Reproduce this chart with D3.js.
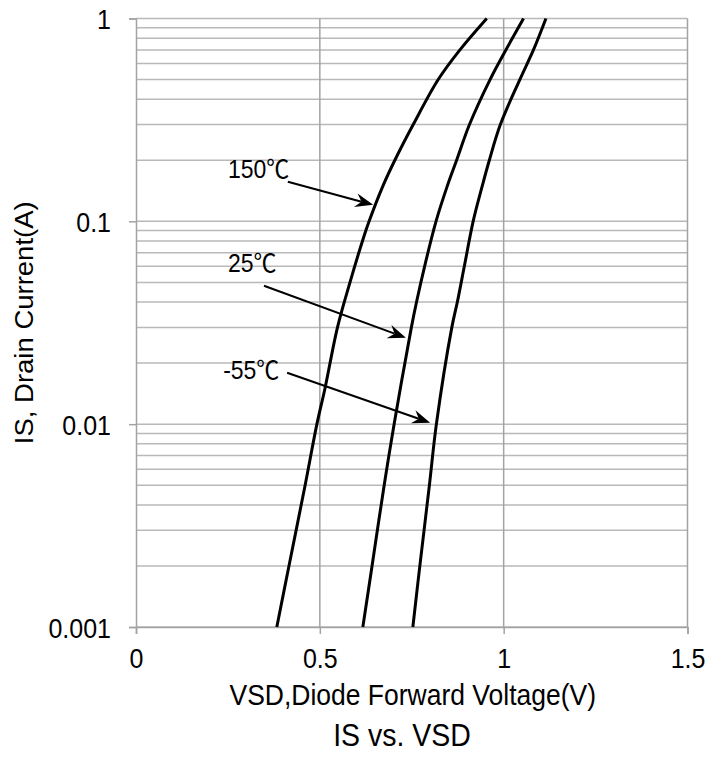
<!DOCTYPE html>
<html>
<head>
<meta charset="utf-8">
<script src="https://cdn.jsdelivr.net/npm/d3@7"></script>
<style>
  body { margin: 0; background: #fff; }
  text { font-family: "Liberation Sans", Arial, "Noto Sans CJK SC", sans-serif; fill: #000; }
</style>
</head>
<body>
<svg id="chart" width="725" height="760"></svg>
<script>
// Axis ticks
const xTicks = [0, 0.5, 1, 1.5];
const xTickLabels = ["0", "0.5", "1", "1.5"];
const yTicks = [0.001, 0.01, 0.1, 1];
const yTickLabels = ["0.001", "0.01", "0.1", "1"];

// Source-drain diode forward characteristic, IS (A) vs VSD (V)
const is150 = [0.001, 0.002, 0.005, 0.01, 0.015, 0.03, 0.05, 0.08, 0.1, 0.15, 0.2, 0.3, 0.5, 0.7, 1];
const vsd150 = [0.383, 0.416, 0.460, 0.492, 0.514, 0.548, 0.582, 0.616, 0.634, 0.672, 0.704, 0.754, 0.822, 0.881, 0.954];
const is25 = [0.001, 0.002, 0.005, 0.01, 0.03, 0.04, 0.06, 0.1, 0.15, 0.2, 0.3, 0.5, 0.7, 1];
const vsd25 = [0.617, 0.642, 0.675, 0.702, 0.749, 0.763, 0.785, 0.816, 0.847, 0.872, 0.907, 0.963, 1.006, 1.054];
const isM55 = [0.001, 0.002, 0.005, 0.01, 0.03, 0.04, 0.06, 0.1, 0.15, 0.2, 0.3, 0.5, 0.7, 1];
const vsdM55 = [0.753, 0.772, 0.798, 0.817, 0.859, 0.874, 0.893, 0.917, 0.942, 0.961, 0.991, 1.044, 1.081, 1.115];

// Temperature callouts: label anchor, arrow tail and arrow tip (V, A)
const seriesNames = ["150\u2103", "25\u2103", "-55\u2103"];
const labelV = [0.250, 0.250, 0.237];
const labelI = [0.1637, 0.0564, 0.01675];
const tailV = [0.413, 0.348, 0.411];
const tailI = [0.1566, 0.0481, 0.01794];
const tipV = [0.645, 0.734, 0.800];
const tipI = [0.1206, 0.02667, 0.01017];

const svg = d3.select("#chart");
const margin = { top: 18.5, right: 37.5, bottom: 133, left: 136 };
const W = 725, H = 760;
const x = d3.scaleLinear().domain([0, 1.5]).range([margin.left, W - margin.right]);
const y = d3.scaleLog().domain([0.001, 1]).range([H - margin.bottom, margin.top]);

// Text is drawn slightly tall (stretched vertically)
const STRETCH = 1.1;

// Horizontal grid: every 1..9 of each decade
const gridY = [];
for (let e = -3; e <= 0; e++) {
  for (let m = 1; m <= 9; m++) {
    const v = m * Math.pow(10, e);
    if (v <= 1.0000001) gridY.push(v);
  }
}
svg.append("g").selectAll("line").data(gridY).join("line")
  .attr("x1", x(0)).attr("x2", x(1.5))
  .attr("y1", d => y(d)).attr("y2", d => y(d))
  .attr("stroke", "#b9b9b9").attr("stroke-width", 1.5);

// Vertical grid at major voltages
svg.append("g").selectAll("line").data(xTicks.slice(1)).join("line")
  .attr("x1", d => x(d)).attr("x2", d => x(d))
  .attr("y1", y(1)).attr("y2", y(0.001))
  .attr("stroke", "#a3a3a3").attr("stroke-width", 1.5);

// Axes (tick marks from d3, labels drawn per tick)
const xAxis = d3.axisBottom(x).tickValues(xTicks).tickSize(7);
const gx = svg.append("g").attr("transform", `translate(0,${y(0.001)})`).call(xAxis);
gx.select(".domain").attr("stroke", "#a3a3a3").attr("stroke-width", 1.5);
gx.selectAll(".tick line").attr("stroke", "#a3a3a3").attr("stroke-width", 1.5);
gx.selectAll(".tick text").remove();
gx.selectAll(".tick").append("text")
  .attr("transform", `translate(0,41) scale(1,${STRETCH})`)
  .attr("text-anchor", "middle")
  .style("font-size", "25px")
  .text((d, i) => xTickLabels[i]);

const yAxis = d3.axisLeft(y).tickValues(yTicks).tickSize(7);
const gy = svg.append("g").attr("transform", `translate(${x(0)},0)`).call(yAxis);
gy.select(".domain").attr("stroke", "#a3a3a3").attr("stroke-width", 1.5);
gy.selectAll(".tick line").attr("stroke", "#a3a3a3").attr("stroke-width", 1.5);
gy.selectAll(".tick text").remove();
gy.selectAll(".tick").append("text")
  .attr("transform", `translate(-25,10) scale(1,${STRETCH})`)
  .attr("text-anchor", "end")
  .style("font-size", "25px")
  .text((d, i) => yTickLabels[i]);

// Curves
const line = d3.line()
  .x(d => x(d[0])).y(d => y(d[1]))
  .curve(d3.curveCatmullRom.alpha(0.5));
const curves = [
  d3.zip(vsd150, is150),
  d3.zip(vsd25, is25),
  d3.zip(vsdM55, isM55)
];
svg.append("g").selectAll("path").data(curves).join("path")
  .attr("d", line)
  .attr("fill", "none").attr("stroke", "#000").attr("stroke-width", 3)
  .attr("stroke-linejoin", "round");

// Callouts
const g = svg.append("g");
seriesNames.forEach((name, i) => {
  g.append("text")
    .attr("transform", `translate(${x(labelV[i])},${y(labelI[i])}) scale(1,${STRETCH})`)
    .style("font-size", "23px")
    .text(name);
  const x1 = x(tailV[i]), y1 = y(tailI[i]);
  const x2 = x(tipV[i]), y2 = y(tipI[i]);
  const dx = x2 - x1, dy = y2 - y1, len = Math.hypot(dx, dy);
  const ux = dx / len, uy = dy / len, nx = -uy, ny = ux;
  const L = 18, Wd = 7, notch = 12;
  g.append("line")
    .attr("x1", x1).attr("y1", y1)
    .attr("x2", x2 - ux * notch).attr("y2", y2 - uy * notch)
    .attr("stroke", "#000").attr("stroke-width", 2);
  g.append("path")
    .attr("d", `M${x2},${y2}L${x2 - ux * L + nx * Wd},${y2 - uy * L + ny * Wd}` +
      `L${x2 - ux * notch},${y2 - uy * notch}L${x2 - ux * L - nx * Wd},${y2 - uy * L - ny * Wd}Z`)
    .attr("fill", "#000");
});

// Axis titles
svg.append("text")
  .attr("transform", `translate(${(x(0) + x(1.5)) / 2 + 1},705) scale(1,${STRETCH})`)
  .attr("text-anchor", "middle")
  .style("font-size", "26.5px")
  .text("VSD,Diode Forward Voltage(V)");
svg.append("text")
  .attr("transform", `translate(33,${(y(1) + y(0.001)) / 2}) rotate(-90) scale(${STRETCH},1)`)
  .attr("text-anchor", "middle")
  .style("font-size", "25px")
  .text("IS, Drain Current(A)");
svg.append("text")
  .attr("transform", `translate(402,746) scale(1,${STRETCH})`)
  .attr("text-anchor", "middle")
  .style("font-size", "28.5px")
  .text("IS vs. VSD");
</script>
</body>
</html>
